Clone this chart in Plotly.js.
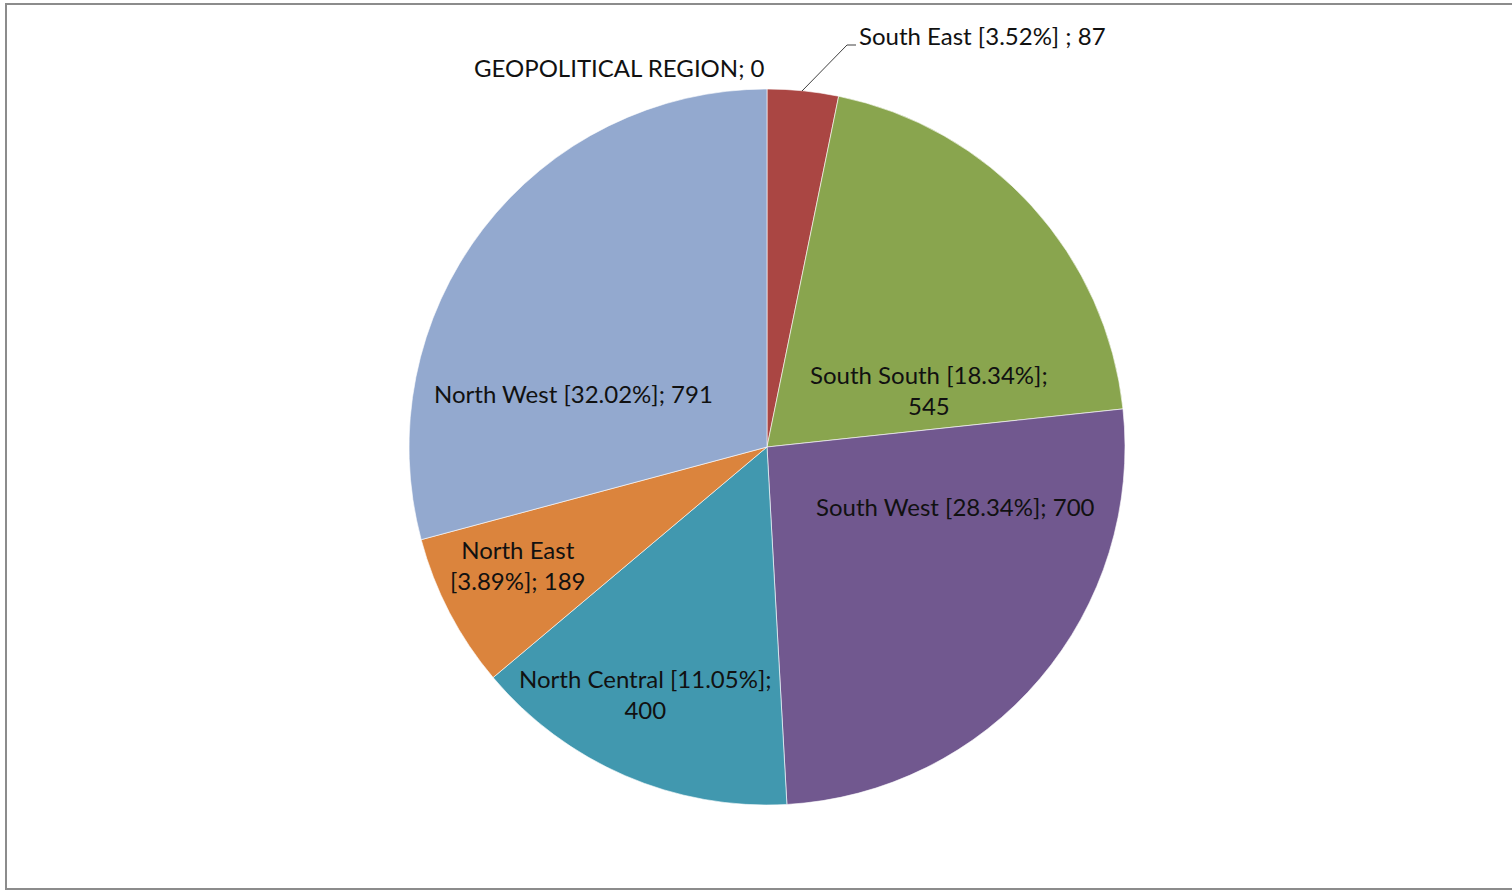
<!DOCTYPE html>
<html>
<head>
<meta charset="utf-8">
<script src="https://cdn.plot.ly/plotly-3.0.1.min.js"></script>
<style>html,body{margin:0;padding:0;background:#fff;}#chart{width:1512px;height:891px;}</style>
</head>
<body>
<div id="chart"></div>
<script>
// Data
var regions = ["GEOPOLITICAL REGION", "South East", "South South", "South West", "North Central", "North East", "North West"];
var counts = [0, 87, 545, 700, 400, 189, 791];
var labelPercents = ["", "3.52%", "18.34%", "28.34%", "11.05%", "3.89%", "32.02%"];
var colors = ["#4572A7", "#AA4643", "#89A54E", "#71588F", "#4198AF", "#DB843D", "#93A9CF"];

// Label texts built from data
var labelTexts = [
  regions[0] + "; " + counts[0],
  regions[1] + " [" + labelPercents[1] + "] ; " + counts[1],
  regions[2] + " [" + labelPercents[2] + "];<br>" + counts[2],
  regions[3] + " [" + labelPercents[3] + "]; " + counts[3],
  regions[4] + " [" + labelPercents[4] + "];<br>" + counts[4],
  "North East<br>[" + labelPercents[5] + "]; " + counts[5],
  regions[6] + " [" + labelPercents[6] + "]; " + counts[6]
];

// Label placement (pixel centres in the 1512x891 canvas)
var W = 1512, H = 891;
var labelPos = [
  {x: 619, y: 68, anchor: "center"},
  {x: 857, y: 35, anchor: "left"},
  {x: 929, y: 390, anchor: "center"},
  {x: 955, y: 506, anchor: "center"},
  {x: 645, y: 694, anchor: "center"},
  {x: 518, y: 565, anchor: "center"},
  {x: 573, y: 393, anchor: "center"}
];

var font = {family: "Lato, 'Open Sans', sans-serif", size: 24, color: "#111111"};

var annotations = labelTexts.map(function (t, i) {
  var p = labelPos[i];
  return {
    text: t, xref: "paper", yref: "paper",
    x: p.x / W, y: 1 - p.y / H,
    xanchor: p.anchor, yanchor: "middle",
    showarrow: false, font: font, align: "center"
  };
});

var trace = {
  type: "pie",
  labels: regions,
  values: counts,
  sort: false,
  direction: "clockwise",
  rotation: 0,
  textinfo: "none",
  hoverinfo: "label+value",
  marker: {colors: colors, line: {color: "rgba(255,255,255,0.6)", width: 1}},
  domain: {x: [409 / W, 1125 / W], y: [1 - 805 / H, 1 - 89 / H]},
  showlegend: false
};

var layout = {
  width: W, height: H,
  margin: {l: 0, r: 0, t: 0, b: 0},
  paper_bgcolor: "#ffffff",
  showlegend: false,
  annotations: annotations,
  shapes: [
    {type: "rect", xref: "paper", yref: "paper", x0: 6 / W, x1: 1520 / W, y0: 1 - 889 / H, y1: 1 - 4 / H,
     line: {color: "#8c8c8c", width: 2}, fillcolor: "rgba(0,0,0,0)"},
    {type: "path", xref: "paper", yref: "paper",
     path: "M " + (802 / W) + " " + (1 - 91 / H) + " L " + (847 / W) + " " + (1 - 45 / H) + " L " + (856 / W) + " " + (1 - 45 / H),
     line: {color: "#404040", width: 1}}
  ]
};

Plotly.newPlot("chart", [trace], layout, {displayModeBar: false, staticPlot: true});
</script>
</body>
</html>
